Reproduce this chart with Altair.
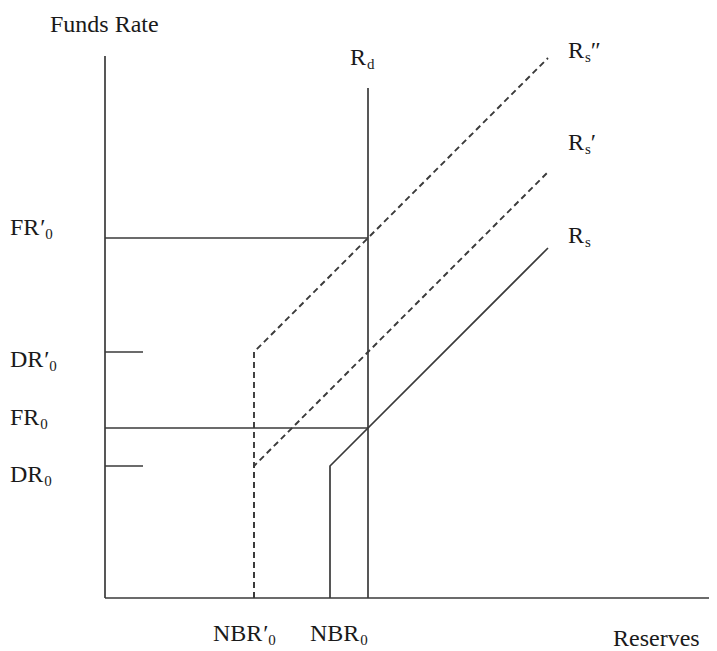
import altair as alt
import pandas as pd

# ---- diagram values (abstract units; origin at the axes' corner) ----
NBR0_P = 149     # NBR'0
NBR0 = 225       # NBR0
RD = 263         # demand (vertical)
DR0 = 132
FR0 = 170
DR0_P = 246
FR0_P = 360
X_END = 443      # right end of the supply curves
RS_TOP = 350
RSP_TOP = 426
RSPP_TOP = 540
X_AXIS_END = 604
Y_AXIS_END = 542
RD_TOP = 510
TICK_LEN = 38

curve_names = ["Rs", "Rs'", "Rs''"]
curve_x = [[NBR0, NBR0, X_END], [NBR0_P, NBR0_P, X_END], [NBR0_P, NBR0_P, X_END]]
curve_y = [[0, DR0, RS_TOP], [0, DR0, RSP_TOP], [0, DR0_P, RSPP_TOP]]
curve_dashed = [False, True, True]

seg_x = [0, 0, RD, 0, 0, 0, 0]
seg_y = [0, 0, 0, FR0_P, FR0, DR0_P, DR0]
seg_x2 = [0, X_AXIS_END, RD, RD, RD, TICK_LEN, TICK_LEN]
seg_y2 = [Y_AXIS_END, 0, RD_TOP, FR0_P, FR0, DR0_P, DR0]

# ---- scales ----
W, H = 701, 643
xs = alt.Scale(domain=[-97, 604], nice=False, zero=False)
ys = alt.Scale(domain=[-53, 590], nice=False, zero=False)

LINE = "#3a3a3a"
TXT = "#1a1a1a"
FONT = "Liberation Serif"
MAIN, SUB = 24, 15

segs = pd.DataFrame({"x": seg_x, "y": seg_y, "x2": seg_x2, "y2": seg_y2})
rules = alt.Chart(segs).mark_rule(color=LINE, strokeWidth=1.7).encode(
    x=alt.X("x:Q", scale=xs, axis=None),
    y=alt.Y("y:Q", scale=ys, axis=None),
    x2="x2:Q",
    y2="y2:Q",
)

rows = []
for name, xsv, ysv, d in zip(curve_names, curve_x, curve_y, curve_dashed):
    for i, (a, b) in enumerate(zip(xsv, ysv)):
        rows.append({"curve": name, "i": i, "x": a, "y": b, "dashed": d})
cdf = pd.DataFrame(rows)


def curve_layer(dashed):
    sub = cdf[cdf["dashed"] == dashed]
    kw = dict(color=LINE, strokeWidth=1.7)
    if dashed:
        kw["strokeDash"] = [6, 4]
        kw["strokeWidth"] = 1.9
    return alt.Chart(sub).mark_line(**kw).encode(
        x=alt.X("x:Q", scale=xs, axis=None),
        y=alt.Y("y:Q", scale=ys, axis=None),
        detail="curve:N",
        order="i:Q",
    )


ADV = {"F": .556, "R": .667, "D": .722, "N": .722, "B": .667,
       "′": .2, "″": .35, "0": .5, "d": .5, "s": .39}


def wid(s, size):
    return sum(ADV.get(c, .5) for c in s) * size


def label(ax, ay, parts, dx, dy):
    df = pd.DataFrame({"x": [ax], "y": [ay]})
    layers = []
    off = dx
    for text, kind in parts:
        if kind == "sub":
            size, shift = SUB, 4
        else:
            size, shift = MAIN, 0
        layers.append(
            alt.Chart(df).mark_text(
                text=text, align="left", baseline="alphabetic",
                dx=off, dy=dy + shift, fontSize=size, font=FONT, color=TXT,
            ).encode(
                x=alt.X("x:Q", scale=xs, axis=None),
                y=alt.Y("y:Q", scale=ys, axis=None),
            )
        )
        off += wid(text, size) + (1 if kind == "main" else 0)
    return layers


labels = []
labels += label(0, Y_AXIS_END, [("Funds Rate", "main")], -55, -24)
labels += label(0, FR0_P, [("FR", "main"), ("′", "prime"), ("0", "sub")], -95, -3)
labels += label(0, DR0_P, [("DR", "main"), ("′", "prime"), ("0", "sub")], -95, 15)
labels += label(0, FR0, [("FR", "main"), ("0", "sub")], -95, -3)
labels += label(0, DR0, [("DR", "main"), ("0", "sub")], -95, 16)
labels += label(RD, RD_TOP, [("R", "main"), ("d", "sub")], -18, -23)
labels += label(X_END, RSPP_TOP, [("R", "main"), ("s", "sub"), ("″", "prime")], 20, 0)
labels += label(X_END, RSP_TOP, [("R", "main"), ("s", "sub"), ("′", "prime")], 20, -22)
labels += label(X_END, RS_TOP, [("R", "main"), ("s", "sub")], 20, -5)
labels += label(NBR0_P, 0, [("NBR", "main"), ("′", "prime"), ("0", "sub")], -41, 43)
labels += label(NBR0, 0, [("NBR", "main"), ("0", "sub")], -20, 43)
labels += label(X_AXIS_END, 0, [("Reserves", "main")], -96, 48)

chart = alt.layer(rules, curve_layer(False), curve_layer(True), *labels).properties(
    width=W, height=H, autosize=alt.AutoSizeParams(type="none"), padding=0
).configure_view(stroke=None)

chart.save("out.html", embed_options={"renderer": "svg", "actions": False})
